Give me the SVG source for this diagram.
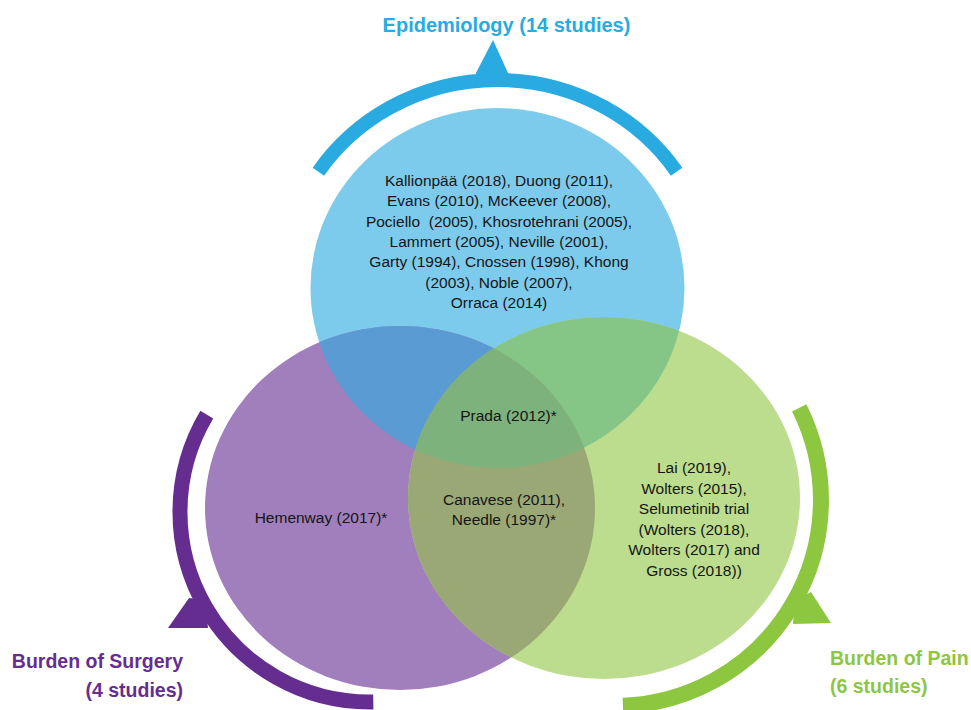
<svg xmlns="http://www.w3.org/2000/svg" width="971" height="710" viewBox="0 0 971 710">
<style>
.body{font-family:"Liberation Sans",Arial,sans-serif;font-size:15.5px;fill:#151515;text-anchor:middle}
.title{font-family:"Liberation Sans",Arial,sans-serif;font-weight:bold}
.arc{fill:none;stroke-linecap:butt}
</style>
<defs>
<clipPath id="clipB"><ellipse cx="497.5" cy="288" rx="187" ry="180"/></clipPath>
<clipPath id="clipP"><ellipse cx="400" cy="508" rx="195" ry="182"/></clipPath>
</defs>
<rect width="971" height="710" fill="#ffffff"/>
<g id="circles">
<ellipse id="circle-epidemiology" cx="497.5" cy="288" rx="187" ry="180" fill="#7dcbec"/>
<ellipse id="circle-surgery" cx="400" cy="508" rx="195" ry="182" fill="#a07fbc"/>
<ellipse id="circle-pain" cx="604" cy="498" rx="196" ry="181" fill="#bcdd8e"/>
<ellipse cx="400" cy="508" rx="195" ry="182" fill="#5a9bd3" clip-path="url(#clipB)"/>
<ellipse cx="604" cy="498" rx="196" ry="181" fill="#85c687" clip-path="url(#clipB)"/>
<ellipse cx="604" cy="498" rx="196" ry="181" fill="#9aa876" clip-path="url(#clipP)"/>
<g clip-path="url(#clipB)"><ellipse cx="604" cy="498" rx="196" ry="181" fill="#7db27d" clip-path="url(#clipP)"/></g>
</g>
<g id="connectors">
<path class="arc" d="M 318.4 171.7 A 216 208 0 0 1 676.6 171.7" stroke="#29abe2" stroke-width="14"/>
<polygon points="493,40 508,73 508,80 476,80 476,73" fill="#29abe2"/>
<path class="arc" d="M 373.3 702 A 190 190 0 0 1 206.8 414.7" stroke="#662d91" stroke-width="15"/>
<polygon points="168,628 189,598 205,600 208,628" fill="#662d91"/>
<path class="arc" d="M 799.2 407.8 A 206 206 0 0 1 622.9 705.8" stroke="#8dc63f" stroke-width="16"/>
<polygon points="831,623 811,592 795,600 793,624" fill="#8dc63f"/>
</g>
<g id="node-epidemiology">
<text class="title" x="506.5" y="31.5" font-size="20" fill="#29abe2" text-anchor="middle">Epidemiology (14 studies)</text>
<text class="body" x="499" y="186">Kallionpää (2018), Duong (2011),</text>
<text class="body" x="499" y="206.3">Evans (2010), McKeever (2008),</text>
<text class="body" x="499" y="226.6" xml:space="preserve">Pociello  (2005), Khosrotehrani (2005),</text>
<text class="body" x="499" y="246.9">Lammert (2005), Neville (2001),</text>
<text class="body" x="499" y="267.2">Garty (1994), Cnossen (1998), Khong</text>
<text class="body" x="499" y="287.5">(2003), Noble (2007),</text>
<text class="body" x="499" y="307.8">Orraca (2014)</text>
</g>
<g id="node-all-three">
<text class="body" x="508.5" y="421">Prada (2012)*</text>
</g>
<g id="node-surgery-pain">
<text class="body" x="504" y="505">Canavese (2011),</text>
<text class="body" x="504" y="525">Needle (1997)*</text>
</g>
<g id="node-surgery">
<text class="body" x="321" y="523">Hemenway (2017)*</text>
<text class="title" x="183" y="668" font-size="19.5" fill="#662d91" text-anchor="end">Burden of Surgery</text>
<text class="title" x="183" y="696.5" font-size="19.5" fill="#662d91" text-anchor="end">(4 studies)</text>
</g>
<g id="node-pain">
<text class="body" x="694" y="473">Lai (2019),</text>
<text class="body" x="694" y="493.5">Wolters (2015),</text>
<text class="body" x="694" y="514">Selumetinib trial</text>
<text class="body" x="694" y="534.5">(Wolters (2018),</text>
<text class="body" x="694" y="555">Wolters (2017) and</text>
<text class="body" x="694" y="575.5">Gross (2018))</text>
<text class="title" x="830" y="665" font-size="19.5" fill="#8dc63f">Burden of Pain</text>
<text class="title" x="830" y="693" font-size="19.5" fill="#8dc63f">(6 studies)</text>
</g>
</svg>
